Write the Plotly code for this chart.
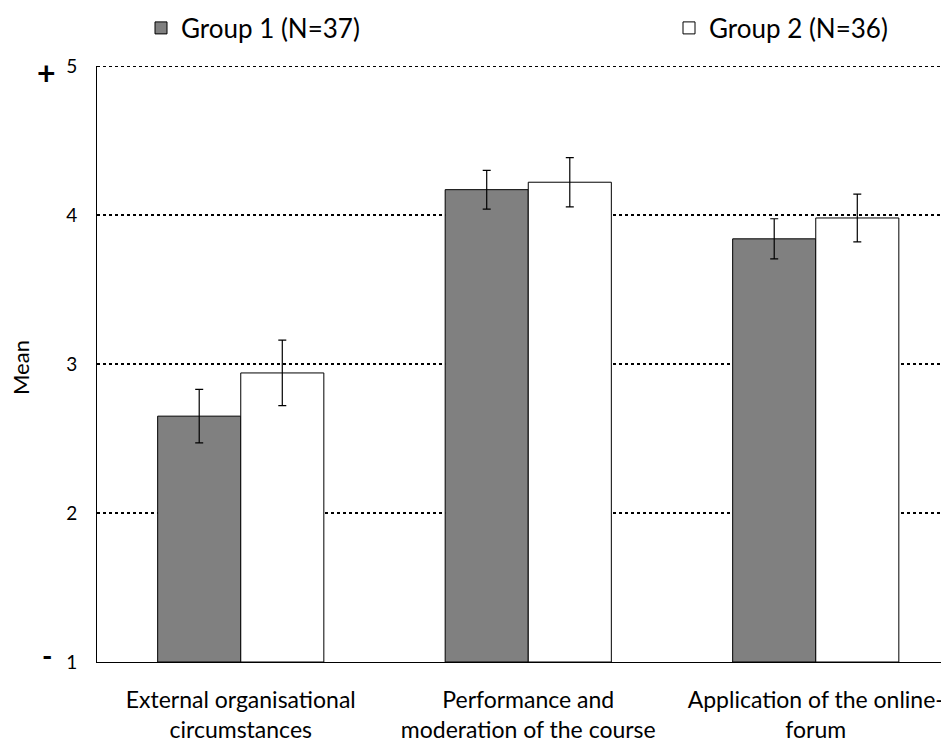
import plotly.graph_objects as go

categories = ["External organisational<br>circumstances",
              "Performance and<br>moderation of the course",
              "Application of the online-<br>forum"]
group1_mean = [2.65, 4.17, 3.84]
group1_err = [0.18, 0.13, 0.135]
group2_mean = [2.94, 4.22, 3.98]
group2_err = [0.22, 0.165, 0.16]
group1_name = "Group 1 (N=37)"
group2_name = "Group 2 (N=36)"
y_ticks = [1, 2, 3, 4, 5]

FONT = "Lato, 'Open Sans', sans-serif"
W, H = 949, 746
L, R, T, B = 89, 0, 58, 92
pw, ph = W - L - R, H - T - B


def px_to_paper(px, py):
    return (px - L) / pw, 1 - (py - T) / ph


fig = go.Figure()
fig.add_trace(go.Bar(
    x=categories, y=[m - 1 for m in group1_mean], base=1, name=group1_name,
    marker=dict(color="#808080", line=dict(color="black", width=1)),
    error_y=dict(type="data", array=group1_err, color="black", thickness=1.2, width=4),
    legend="legend",
))
fig.add_trace(go.Bar(
    x=categories, y=[m - 1 for m in group2_mean], base=1, name=group2_name,
    marker=dict(color="white", line=dict(color="black", width=1)),
    error_y=dict(type="data", array=group2_err, color="black", thickness=1.2, width=4),
    legend="legend2",
))

leg_common = dict(orientation="h", xref="container", yref="container",
                  yanchor="middle", xanchor="left",
                  font=dict(size=26, family=FONT), bgcolor="rgba(0,0,0,0)")

x_plus, y_plus = px_to_paper(38, 64)
x_minus, y_minus = px_to_paper(39, 647)
x_mean, y_mean = px_to_paper(12, 360)

fig.update_layout(
    width=W, height=H,
    margin=dict(l=L, r=R, t=T, b=B, autoexpand=False),
    paper_bgcolor="white", plot_bgcolor="white",
    barmode="group", bargap=0.422, bargroupgap=0,
    font=dict(family=FONT, color="black"),
    showlegend=True,
    legend=dict(x=133 / W, y=1 - 20 / H, **leg_common),
    legend2=dict(x=661 / W, y=1 - 20 / H, **leg_common),
    xaxis=dict(range=[-0.5, -0.5 + pw / 287.5], showline=True, linecolor="black", linewidth=1,
               tickfont=dict(size=23, family=FONT), ticks="", showgrid=False,
               automargin=False, ticklabelstandoff=17),
    yaxis=dict(range=[1, 5], tickvals=y_ticks, showline=True, linecolor="black", linewidth=1,
               showgrid=True, gridcolor="black", griddash="dot", gridwidth=2,
               zeroline=False, ticks="", ticklabelstandoff=15,
               tickfont=dict(size=19, family=FONT), automargin=False),
    shapes=[dict(type="line", xref="paper", yref="y", x0=0, x1=1, y0=5, y1=5,
                 line=dict(color="black", width=2, dash="dot"))],
    annotations=[
        dict(text="<b>+</b>", x=x_plus, y=y_plus, xref="paper", yref="paper", showarrow=False,
             xanchor="center", yanchor="middle", font=dict(size=32, family=FONT)),
        dict(text="<b>-</b>", x=x_minus, y=y_minus, xref="paper", yref="paper", showarrow=False,
             xanchor="center", yanchor="middle", font=dict(size=28, family=FONT)),
        dict(text="Mean", x=x_mean, y=y_mean, xref="paper", yref="paper", showarrow=False,
             xanchor="center", yanchor="middle",
             textangle=-90, font=dict(size=22, family=FONT)),
    ],
)

fig.write_html("out.html")
